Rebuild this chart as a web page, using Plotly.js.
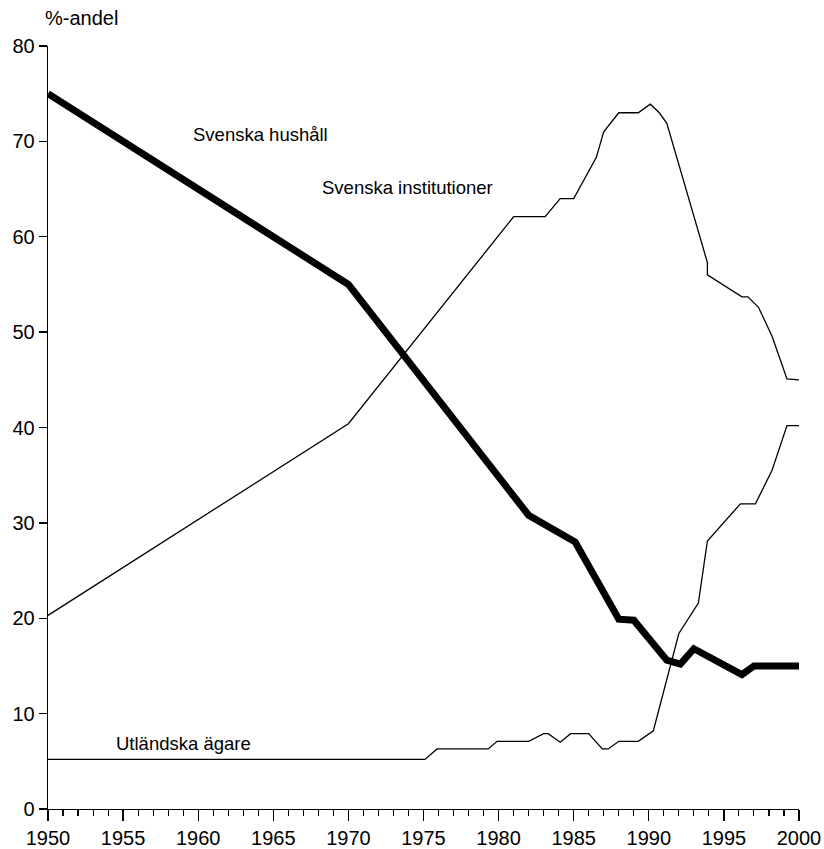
<!DOCTYPE html>
<html><head><meta charset="utf-8">
<script src="https://cdn.plot.ly/plotly-3.0.1.min.js"></script>
<style>html,body{margin:0;padding:0;background:#fff}#chart{width:824px;height:849px}</style>
</head><body><div id="chart"></div>
<script>
// Svenska hushåll (thick line)
const hushallYears = [1950, 1970, 1982, 1985.1, 1988, 1989, 1991.2, 1992.1, 1993, 1996.2, 1997, 2000];
const hushallValues = [75, 55, 30.8, 28, 19.9, 19.8, 15.6, 15.2, 16.8, 14.1, 15, 15];

// Svenska institutioner
const instYears = [1950, 1970, 1981, 1983.1, 1984.1, 1985, 1986.5, 1987, 1988, 1989.3, 1990.1, 1990.7, 1991.2, 1993.9, 1993.9, 1996.2, 1996.6, 1997.3, 1998.2, 1999.2, 2000];
const instValues = [20.3, 40.4, 62.1, 62.1, 64, 64, 68.3, 71, 73, 73, 73.9, 73, 71.9, 57.3, 56, 53.7, 53.7, 52.6, 49.6, 45.1, 45];

// Utländska ägare
const utlYears = [1950, 1975.1, 1975.9, 1979.3, 1979.9, 1982, 1983, 1983.3, 1984.1, 1984.8, 1986, 1986.9, 1987.3, 1988, 1989.3, 1990.3, 1992, 1993.3, 1993.9, 1996.1, 1997.1, 1998.2, 1999.2, 2000];
const utlValues = [5.2, 5.2, 6.3, 6.3, 7.1, 7.1, 7.9, 7.9, 7.0, 7.9, 7.9, 6.3, 6.3, 7.1, 7.1, 8.2, 18.4, 21.6, 28.1, 32, 32, 35.5, 40.2, 40.2];

const seriesLabels = ["Svenska hushåll", "Svenska institutioner", "Utländska ägare"];
const yTitle = "%-andel";

const font = "Liberation Sans, Arial, Helvetica, sans-serif";

const traces = [
  {x: instYears, y: instValues, mode: "lines", line: {color: "#000", width: 1.3}, name: seriesLabels[1]},
  {x: utlYears, y: utlValues, mode: "lines", line: {color: "#000", width: 1.3}, name: seriesLabels[2]},
  {x: hushallYears, y: hushallValues, mode: "lines", line: {color: "#000", width: 7}, name: seriesLabels[0]}
];

const layout = {
  width: 824, height: 849,
  margin: {l: 48, r: 25, t: 46, b: 40},
  paper_bgcolor: "#fff", plot_bgcolor: "#fff",
  showlegend: false,
  font: {family: font, color: "#000"},
  xaxis: {
    range: [1950, 2000], tick0: 1950, dtick: 5, ticks: "outside", ticklen: 11, tickwidth: 1.3,
    tickcolor: "#000", showline: true, linecolor: "#000", linewidth: 1.3, showgrid: false, zeroline: false,
    tickfont: {size: 20, family: font},
    minor: {dtick: 1, ticks: "outside", ticklen: 6, tickwidth: 1.1, tickcolor: "#000", showgrid: false}
  },
  yaxis: {
    range: [0, 80], dtick: 10, ticks: "outside", ticklen: 8, tickwidth: 1.3, tickcolor: "#000",
    showline: true, linecolor: "#000", linewidth: 1.3, showgrid: false, zeroline: false,
    tickfont: {size: 20, family: font}
  },
  annotations: [
    {x: 1959.5, y: 70.7, xref: "x", yref: "y", text: seriesLabels[0], showarrow: false, xanchor: "left", yanchor: "middle", font: {size: 18.5, family: font}},
    {x: 1968.1, y: 65.2, xref: "x", yref: "y", text: seriesLabels[1], showarrow: false, xanchor: "left", yanchor: "middle", font: {size: 18.5, family: font}},
    {x: 1954.4, y: 6.9, xref: "x", yref: "y", text: seriesLabels[2], showarrow: false, xanchor: "left", yanchor: "middle", font: {size: 18.5, family: font}},
    {x: -0.007, y: 1.037, xref: "paper", yref: "paper", text: yTitle, showarrow: false, xanchor: "left", yanchor: "middle", font: {size: 20, family: font}}
  ]
};

Plotly.newPlot("chart", traces, layout, {displayModeBar: false, staticPlot: true});
</script>
</body></html>
